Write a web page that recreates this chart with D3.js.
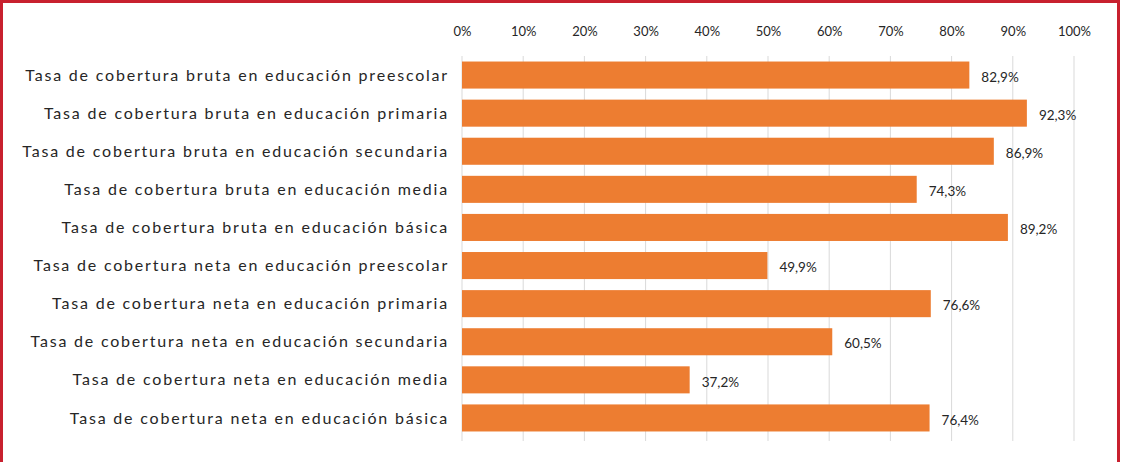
<!DOCTYPE html>
<html><head><meta charset="utf-8">
<script src="https://cdn.jsdelivr.net/npm/d3@7"></script>
<style>
html,body{margin:0;padding:0;background:#fff;}
svg{display:block;}
text{font-family:Lato,"Open Sans",sans-serif;fill:#262626;}
</style></head>
<body>
<svg id="c" width="1121" height="462"></svg>
<script>
const categories = [
  "Tasa de cobertura bruta en educación preescolar",
  "Tasa de cobertura bruta en educación primaria",
  "Tasa de cobertura bruta en educación secundaria",
  "Tasa de cobertura bruta en educación media",
  "Tasa de cobertura bruta en educación básica",
  "Tasa de cobertura neta en educación preescolar",
  "Tasa de cobertura neta en educación primaria",
  "Tasa de cobertura neta en educación secundaria",
  "Tasa de cobertura neta en educación media",
  "Tasa de cobertura neta en educación básica"
];
const values = [82.9, 92.3, 86.9, 74.3, 89.2, 49.9, 76.6, 60.5, 37.2, 76.4];
const valueLabels = ["82,9%","92,3%","86,9%","74,3%","89,2%","49,9%","76,6%","60,5%","37,2%","76,4%"];
const tickValues = [0,10,20,30,40,50,60,70,80,90,100];
const tickLabels = ["0%","10%","20%","30%","40%","50%","60%","70%","80%","90%","100%"];

const svg = d3.select("#c");
const W = 1121, H = 462;

// frame
svg.append("rect").attr("x",1.5).attr("y",1.5).attr("width",1117).attr("height",H+10)
  .attr("fill","none").attr("stroke","#C8202F").attr("stroke-width",3);

const x = d3.scaleLinear().domain([0,100]).range([462,1074]);
const y = d3.scaleBand().domain(categories).range([56,437]).paddingInner(0.29).paddingOuter(0.145);

// gridlines
svg.append("g").selectAll("line").data(tickValues).join("line")
  .attr("x1",d=>x(d)).attr("x2",d=>x(d)).attr("y1",56).attr("y2",441)
  .attr("stroke","#d9d9d9").attr("stroke-width",1);

// top axis
const ax = svg.append("g").attr("transform","translate(0,36)")
  .call(d3.axisTop(x).tickValues(tickValues).tickFormat((d,i)=>tickLabels[i]).tickSize(0).tickPadding(0));
ax.select(".domain").remove();
ax.selectAll("text").style("font-size","13px").attr("fill","#262626");

// category labels
svg.append("g").selectAll("text").data(categories).join("text")
  .attr("x",449).attr("y",d=>y(d)+y.bandwidth()/2).attr("dy","0.35em")
  .attr("text-anchor","end").style("font-size","16px").style("letter-spacing","1.8px")
  .text(d=>d);

// bars
svg.append("g").selectAll("rect").data(values).join("rect")
  .attr("x",x(0)).attr("y",(d,i)=>y(categories[i]))
  .attr("width",d=>x(d)-x(0)).attr("height",y.bandwidth())
  .attr("fill","#ED7D31");

// value labels
svg.append("g").selectAll("text").data(values).join("text")
  .attr("x",d=>x(d)+12).attr("y",(d,i)=>y(categories[i])+y.bandwidth()/2+2).attr("dy","0.35em")
  .style("font-size","13.5px").text((d,i)=>valueLabels[i]);
</script>
</body></html>
